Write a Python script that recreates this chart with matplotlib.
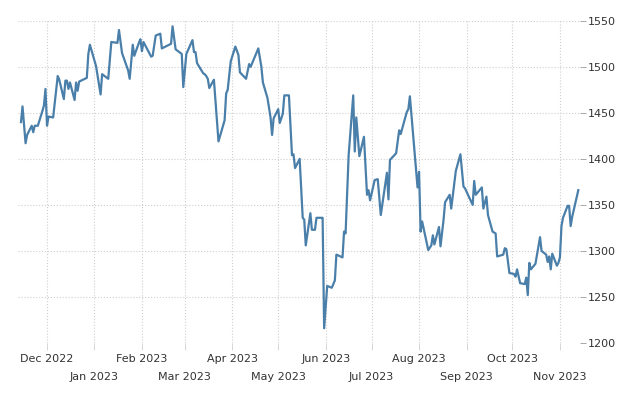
import matplotlib
matplotlib.use('Agg')
import matplotlib.pyplot as plt
import pandas as pd

# datas (pregoes)
datas = ['2022-11-14', '2022-11-15', '2022-11-17', '2022-11-18', '2022-11-21', '2022-11-22',
         '2022-11-23', '2022-11-25', '2022-11-28', '2022-11-29', '2022-11-30', '2022-12-01',
         '2022-12-02', '2022-12-05', '2022-12-08', '2022-12-09', '2022-12-12', '2022-12-13',
         '2022-12-14', '2022-12-15', '2022-12-16', '2022-12-19', '2022-12-20', '2022-12-21',
         '2022-12-22', '2022-12-27', '2022-12-28', '2022-12-29', '2023-01-02', '2023-01-05',
         '2023-01-06', '2023-01-10', '2023-01-12', '2023-01-16', '2023-01-17', '2023-01-19',
         '2023-01-23', '2023-01-24', '2023-01-26', '2023-01-27', '2023-01-30', '2023-01-31',
         '2023-02-01', '2023-02-02', '2023-02-07', '2023-02-08', '2023-02-10', '2023-02-13',
         '2023-02-14', '2023-02-20', '2023-02-21', '2023-02-23', '2023-02-27', '2023-02-28',
         '2023-03-02', '2023-03-06', '2023-03-07', '2023-03-08', '2023-03-09', '2023-03-13',
         '2023-03-14', '2023-03-15', '2023-03-16', '2023-03-17', '2023-03-20', '2023-03-23',
         '2023-03-27', '2023-03-28', '2023-03-29', '2023-03-31', '2023-04-03', '2023-04-05',
         '2023-04-06', '2023-04-10', '2023-04-12', '2023-04-13', '2023-04-14', '2023-04-18',
         '2023-04-20', '2023-04-21', '2023-04-24', '2023-04-26', '2023-04-27', '2023-04-28',
         '2023-05-01', '2023-05-02', '2023-05-04', '2023-05-05', '2023-05-08', '2023-05-10',
         '2023-05-11', '2023-05-12', '2023-05-15', '2023-05-17', '2023-05-18', '2023-05-19',
         '2023-05-22', '2023-05-23', '2023-05-25', '2023-05-26', '2023-05-30', '2023-05-31',
         '2023-06-02', '2023-06-05', '2023-06-07', '2023-06-08', '2023-06-12', '2023-06-13',
         '2023-06-14', '2023-06-16', '2023-06-19', '2023-06-20', '2023-06-21', '2023-06-23',
         '2023-06-26', '2023-06-28', '2023-06-29', '2023-06-30', '2023-07-03', '2023-07-05',
         '2023-07-07', '2023-07-11', '2023-07-12', '2023-07-13', '2023-07-17', '2023-07-19',
         '2023-07-20', '2023-07-24', '2023-07-25', '2023-07-26', '2023-07-31', '2023-08-01',
         '2023-08-02', '2023-08-03', '2023-08-07', '2023-08-09', '2023-08-10', '2023-08-11',
         '2023-08-14', '2023-08-15', '2023-08-17', '2023-08-18', '2023-08-21', '2023-08-22',
         '2023-08-25', '2023-08-28', '2023-08-30', '2023-08-31', '2023-09-05', '2023-09-06',
         '2023-09-07', '2023-09-11', '2023-09-12', '2023-09-14', '2023-09-15', '2023-09-18',
         '2023-09-20', '2023-09-21', '2023-09-25', '2023-09-26', '2023-09-27', '2023-09-29',
         '2023-10-02', '2023-10-03', '2023-10-04', '2023-10-06', '2023-10-09', '2023-10-10',
         '2023-10-11', '2023-10-12', '2023-10-13', '2023-10-16', '2023-10-19', '2023-10-20',
         '2023-10-23', '2023-10-24', '2023-10-25', '2023-10-26', '2023-10-27', '2023-10-30',
         '2023-10-31', '2023-11-01', '2023-11-02', '2023-11-03', '2023-11-06', '2023-11-07',
         '2023-11-08', '2023-11-09', '2023-11-13']

valores = [1440, 1457, 1417, 1426, 1436, 1429,
           1436, 1436, 1452, 1458, 1476, 1436,
           1446, 1445, 1490, 1486, 1465, 1485,
           1485, 1476, 1483, 1464, 1483, 1474,
           1484, 1488, 1514, 1524, 1501, 1470,
           1492, 1487, 1527, 1526, 1540, 1515,
           1496, 1487, 1524, 1512, 1526, 1530,
           1517, 1527, 1511, 1512, 1534, 1536,
           1520, 1525, 1544, 1519, 1514, 1478,
           1514, 1529, 1516, 1516, 1504, 1493,
           1492, 1490, 1487, 1477, 1486, 1419,
           1442, 1471, 1475, 1506, 1522, 1513,
           1494, 1487, 1503, 1500, 1504, 1520,
           1500, 1483, 1466, 1445, 1426, 1444,
           1454, 1439, 1449, 1469, 1469, 1404,
           1405, 1390, 1400, 1336, 1334, 1306,
           1341, 1323, 1323, 1336, 1336, 1216,
           1262, 1260, 1268, 1296, 1293, 1321,
           1319, 1404, 1469, 1408, 1445, 1403,
           1424, 1361, 1366, 1355, 1377, 1378,
           1339, 1385, 1356, 1399, 1406, 1431,
           1427, 1451, 1454, 1468, 1369, 1386,
           1321, 1332, 1301, 1306, 1317, 1307,
           1326, 1305, 1334, 1353, 1361, 1346,
           1387, 1405, 1370, 1368, 1350, 1376,
           1361, 1369, 1346, 1359, 1339, 1321,
           1319, 1294, 1296, 1303, 1302, 1276,
           1275, 1272, 1280, 1265, 1264, 1271,
           1252, 1287, 1280, 1286, 1315, 1300,
           1296, 1288, 1294, 1280, 1297, 1284,
           1287, 1293, 1327, 1336, 1349, 1349,
           1327, 1337, 1366]

# rotulos do eixo x (inicio de cada mes)
meses = ['2022-12-01', '2023-01-01', '2023-02-01', '2023-03-01', '2023-04-01', '2023-05-01',
         '2023-06-01', '2023-07-01', '2023-08-01', '2023-09-01', '2023-10-01', '2023-11-01']
rotulos_meses = ['Dec 2022', 'Jan 2023', 'Feb 2023', 'Mar 2023', 'Apr 2023', 'May 2023',
                 'Jun 2023', 'Jul 2023', 'Aug 2023', 'Sep 2023', 'Oct 2023', 'Nov 2023']
niveis_y = [1200, 1250, 1300, 1350, 1400, 1450, 1500, 1550]

d = pd.to_datetime(datas)
m = pd.to_datetime(meses)

fig = plt.figure(figsize=(6.4, 4.0), dpi=100)
ax = fig.add_axes([0.028, 0.1425, 0.878, 0.8055])

ax.plot(d, valores, color='#4a7fa9', lw=1.6, solid_joinstyle='round')

ax.set_xlim(pd.Timestamp('2022-11-12'), pd.Timestamp('2023-11-14'))
ax.set_ylim(1200, 1550)

# eixo y na direita
ax.yaxis.tick_right()
ax.set_yticks(niveis_y)
ax.tick_params(axis='y', length=4, width=0.6, color='#999999', pad=2,
               labelsize=8, labelcolor='#333333')

# rotulos em duas linhas: meses pares em cima (major), impares embaixo (minor)
ax.set_xticks(m[0::2])
ax.set_xticklabels(rotulos_meses[0::2])
ax.set_xticks(m[1::2], minor=True)
ax.set_xticklabels(rotulos_meses[1::2], minor=True)
ax.tick_params(axis='x', which='major', length=5, width=0.6, color='#d0d0d0', pad=3,
               labelsize=8, labelcolor='#333333')
ax.tick_params(axis='x', which='minor', length=5, width=0.6, color='#d0d0d0', pad=16,
               labelsize=8, labelcolor='#333333')

ax.grid(True, which='both', color='#cfcfcf', linestyle=':', linewidth=0.8)
for s in ax.spines.values():
    s.set_visible(False)

plt.savefig('out.png', dpi=100)
plt.close()
